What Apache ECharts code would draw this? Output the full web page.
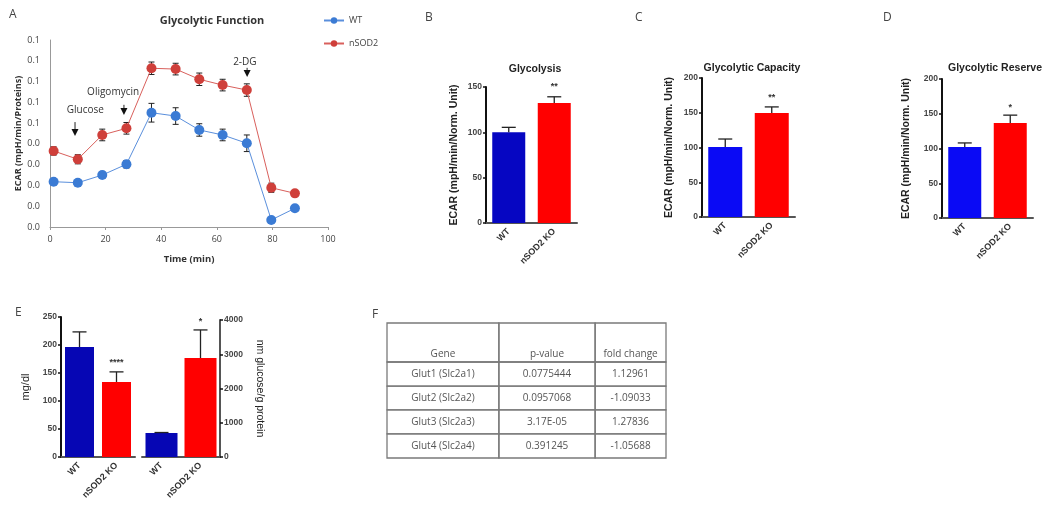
<!DOCTYPE html>
<html><head><meta charset="utf-8">
<script src="https://cdn.jsdelivr.net/npm/echarts@6/dist/echarts.min.js"></script>
<style>html,body{margin:0;padding:0;background:#fff}#c{width:1050px;height:513px}</style>
</head><body><div id="c"></div><script>
// ---------- Panel A data ----------
const timeMin = [1.3, 10.0, 18.8, 27.5, 36.5, 45.2, 53.7, 62.1, 70.8, 79.6, 88.1];
const wtEcar  = [0.0218, 0.0213, 0.0250, 0.0302, 0.0550, 0.0534, 0.0467, 0.0443, 0.0403, 0.0034, 0.0090];
const wtErr   = [0.0012, 0.0015, 0.0015, 0.0018, 0.0045, 0.0040, 0.0030, 0.0028, 0.0040, 0.0010, 0.0010];
const sodEcar = [0.0366, 0.0326, 0.0443, 0.0475, 0.0764, 0.0760, 0.0711, 0.0683, 0.0659, 0.0189, 0.0162];
const sodErr  = [0.0020, 0.0022, 0.0028, 0.0028, 0.0030, 0.0028, 0.0030, 0.0028, 0.0030, 0.0022, 0.0012];
const yTickLabelsA = ['0.0','0.0','0.0','0.0','0.0','0.1','0.1','0.1','0.1','0.1'];
const xTicksA = [0, 20, 40, 60, 80, 100];
const annotText = ['Glucose', 'Oligomycin', '2-DG'];
const annotTextAt = [[12.7, 0.0563], [22.7, 0.0650], [70.1, 0.0794]];
const annotArrowAt = [[9.0, 0.0505, 0.0438], [26.6, 0.0588, 0.0539], [70.9, 0.0766, 0.0722]];

// ---------- Panels B-E data ----------
const groups = ['WT', 'nSOD2 KO'];
const glycolysis = [100, 132.4];
const glycolysisErr = [5.5, 6.8];
const glycolysisSig = ['', '**'];
const capacity = [100.7, 149.6];
const capacityErr = [11.5, 8.8];
const capacitySig = ['', '**'];
const reserve = [102, 136.7];
const reserveErr = [6, 11.3];
const reserveSig = ['', '*'];
const glucoseMgDl = [196.4, 134];
const glucoseMgDlErr = [27, 18];
const glucoseMgDlSig = ['', '****'];
const glucoseNm = [700, 2890];
const glucoseNmErr = [15, 820];
const glucoseNmSig = ['', '*'];

// ---------- Panel F data ----------
const tableHeader = ['Gene', 'p-value', 'fold change'];
const genes = ['Glut1 (Slc2a1)', 'Glut2 (Slc2a2)', 'Glut3 (Slc2a3)', 'Glut4 (Slc2a4)'];
const pValues = ['0.0775444', '0.0957068', '3.17E-05', '0.391245'];
const foldChanges = ['1.12961', '-1.09033', '1.27836', '-1.05688'];
// table layout (fractions of table box)
const colEdges = [0, 0.401, 0.746, 1];
const rowEdges = [0, 0.289, 0.467, 0.644, 0.822, 1];

const FA = '"Liberation Sans", Arial, sans-serif';
const FC = '"Open Sans", "Liberation Sans", sans-serif';
const BLUE_A = '#3b7bd4', RED_A = '#cf3f3a';
const RED = '#ff0000';

const chart = echarts.init(document.getElementById('c'), null, {renderer: 'canvas'});

function errA(params, api) {
  const t = api.value(0), v = api.value(1), e = api.value(2);
  const top = api.coord([t, v + e]), bot = api.coord([t, v - e]);
  const c = 3;
  const st = {stroke: '#222', lineWidth: 1};
  return {type: 'group', children: [
    {type: 'line', shape: {x1: top[0], y1: top[1], x2: bot[0], y2: bot[1]}, style: st},
    {type: 'line', shape: {x1: top[0]-c, y1: top[1], x2: top[0]+c, y2: top[1]}, style: st},
    {type: 'line', shape: {x1: bot[0]-c, y1: bot[1], x2: bot[0]+c, y2: bot[1]}, style: st}
  ]};
}

function annotRender(params, api) {
  const i = params.dataIndex;
  const tp = api.coord(annotTextAt[i]);
  const a = annotArrowAt[i];
  const p1 = api.coord([a[0], a[1]]), p2 = api.coord([a[0], a[2]]);
  const headH = 7, headW = 3.5;
  return {type: 'group', children: [
    {type: 'text', style: {text: annotText[i], x: tp[0], y: tp[1], align: 'center', verticalAlign: 'middle',
      font: '10px ' + FC, fill: '#333'}},
    {type: 'line', shape: {x1: p1[0], y1: p1[1], x2: p2[0], y2: p2[1] - headH}, style: {stroke: '#222', lineWidth: 1}},
    {type: 'polygon', shape: {points: [[p2[0]-headW, p2[1]-headH], [p2[0]+headW, p2[1]-headH], [p2[0], p2[1]]]},
      style: {fill: '#111'}}
  ]};
}

function makeErr(sig, cap, starGap) {
  return function (params, api) {
    const x = api.value(0), v = api.value(1), e = api.value(2);
    const p0 = api.coord([x, v]), p1 = api.coord([x, v + e]);
    const st = {stroke: '#222', lineWidth: 1.3};
    const ch = [
      {type: 'line', shape: {x1: p0[0], y1: p0[1], x2: p1[0], y2: p1[1]}, style: st},
      {type: 'line', shape: {x1: p1[0]-cap, y1: p1[1], x2: p1[0]+cap, y2: p1[1]}, style: st}
    ];
    const s = sig[params.dataIndex];
    if (s) ch.push({type: 'text', style: {text: s, x: p1[0], y: p1[1] - starGap, align: 'center', verticalAlign: 'middle',
      font: 'bold 9px ' + FA, fill: '#333'}});
    return {type: 'group', children: ch};
  };
}

function tableRender(params, api) {
  const c = api.value(0), r = api.value(1);
  const a = api.coord([colEdges[c], rowEdges[r]]);
  const b = api.coord([colEdges[c+1], rowEdges[r+1]]);
  let text;
  if (r === 0) text = tableHeader[c];
  else text = [genes, pValues, foldChanges][c][r-1];
  const x = (a[0] + b[0]) / 2;
  const y = r === 0 ? b[1] - 8 : (a[1] + b[1]) / 2;
  return {type: 'group', children: [
    {type: 'rect', shape: {x: a[0], y: a[1], width: b[0]-a[0], height: b[1]-a[1]},
      style: {fill: 'none', stroke: '#7a7a7a', lineWidth: 1.3}},
    {type: 'text', style: {text: text, x: x, y: y, align: 'center', verticalAlign: 'middle',
      font: '10px ' + FC, fill: '#555'}}
  ]};
}

const tableCells = [];
for (let r = 0; r < rowEdges.length - 1; r++) for (let c = 0; c < colEdges.length - 1; c++) tableCells.push([c, r]);

function barAxisX(gi) {
  return {gridIndex: gi, type: 'category', data: groups,
    axisLine: {lineStyle: {color: '#555', width: 2}},
    axisTick: {alignWithLabel: true, length: 4, lineStyle: {color: '#222', width: 1.5}},
    axisLabel: {rotate: 45, fontSize: 9, fontWeight: 'bold', color: '#333', fontFamily: FA, margin: 7}};
}
function barAxisY(gi, max, interval, name, gap, extra) {
  return Object.assign({gridIndex: gi, type: 'value', min: 0, max: max, interval: interval,
    name: name, nameLocation: 'middle', nameGap: gap,
    nameTextStyle: {fontSize: 10.5, fontWeight: 'bold', color: '#222', fontFamily: FA},
    axisLine: {show: true, lineStyle: {color: '#111', width: 2}},
    axisTick: {show: true, length: 3, lineStyle: {color: '#111', width: 1.5}},
    axisLabel: {fontSize: 8.5, fontWeight: 'bold', color: '#444', fontFamily: FA, margin: 4},
    splitLine: {show: false}}, extra || {});
}
function barData(vals, blue) {
  return vals.map((v, i) => ({value: v, itemStyle: {color: i === 0 ? blue : RED}}));
}
function errData(vals, errs) { return vals.map((v, i) => [i, v, errs[i]]); }

const option = {
  animation: false,
  backgroundColor: '#fff',
  title: [
    {text: 'Glycolytic Function', left: 207, top: 10, textAlign: 'center', textStyle: {fontSize: 11, fontWeight: 'bold', color: '#333', fontFamily: FC}},
    {text: 'Glycolysis', left: 530, top: 59, textAlign: 'center', textStyle: {fontSize: 10.5, fontWeight: 'bold', color: '#222', fontFamily: FA}},
    {text: 'Glycolytic Capacity', left: 747, top: 58, textAlign: 'center', textStyle: {fontSize: 10.5, fontWeight: 'bold', color: '#222', fontFamily: FA}},
    {text: 'Glycolytic Reserve', left: 990, top: 58, textAlign: 'center', textStyle: {fontSize: 10.5, fontWeight: 'bold', color: '#222', fontFamily: FA}},
    {text: 'A', left: 4, top: 4, textStyle: {fontSize: 12, fontWeight: 'normal', color: '#444', fontFamily: FC}},
    {text: 'B', left: 420, top: 7, textStyle: {fontSize: 12, fontWeight: 'normal', color: '#444', fontFamily: FC}},
    {text: 'C', left: 630, top: 7, textStyle: {fontSize: 12, fontWeight: 'normal', color: '#444', fontFamily: FC}},
    {text: 'D', left: 878, top: 7, textStyle: {fontSize: 12, fontWeight: 'normal', color: '#444', fontFamily: FC}},
    {text: 'E', left: 10, top: 302, textStyle: {fontSize: 12, fontWeight: 'normal', color: '#444', fontFamily: FC}},
    {text: 'F', left: 367, top: 304, textStyle: {fontSize: 12, fontWeight: 'normal', color: '#444', fontFamily: FC}}
  ],
  legend: {left: 318, top: 11, orient: 'vertical', itemWidth: 20, itemHeight: 8, itemGap: 14,
    data: ['WT', 'nSOD2'], textStyle: {fontSize: 9, color: '#444', fontFamily: FC}},
  grid: [
    {left: 50, top: 40, width: 278, height: 187},
    {left: 486, top: 87, width: 91, height: 136},
    {left: 702, top: 78, width: 93, height: 139},
    {left: 942, top: 79, width: 91, height: 139},
    {left: 61, top: 317, width: 74, height: 140},
    {left: 142, top: 320, width: 78, height: 137},
    {left: 387, top: 323, width: 279, height: 135}
  ],
  xAxis: [
    {gridIndex: 0, type: 'value', min: 0, max: 100, interval: 20,
      name: 'Time (min)', nameLocation: 'middle', nameGap: 27,
      nameTextStyle: {fontSize: 9.5, fontWeight: 'bold', color: '#333', fontFamily: FC},
      axisLine: {lineStyle: {color: '#999'}}, axisTick: {show: true, length: 3, lineStyle: {color: '#999'}},
      axisLabel: {fontSize: 9, color: '#444', fontFamily: FC, margin: 8,
        formatter: v => xTicksA.includes(v) ? String(v) : ''},
      splitLine: {show: false}},
    barAxisX(1), barAxisX(2), barAxisX(3), barAxisX(4), barAxisX(5),
    {gridIndex: 6, type: 'value', min: 0, max: 1, show: false}
  ],
  yAxis: [
    {gridIndex: 0, type: 'value', min: 0, max: 0.09, interval: 0.01,
      name: 'ECAR (mpH/min/Proteins)', nameLocation: 'middle', nameGap: 27,
      nameTextStyle: {fontSize: 9, fontWeight: 'bold', color: '#333', fontFamily: FC},
      axisLine: {show: true, lineStyle: {color: '#999'}}, axisTick: {show: false},
      axisLabel: {fontSize: 9, color: '#444', fontFamily: FC, margin: 10,
        formatter: v => yTickLabelsA[Math.round(v / 0.01)]},
      splitLine: {show: false}},
    barAxisY(1, 150, 50, 'ECAR (mpH/min/Norm. Unit)', 26),
    barAxisY(2, 200, 50, 'ECAR (mpH/min/Norm. Unit)', 27),
    barAxisY(3, 200, 50, 'ECAR (mpH/min/Norm. Unit)', 30),
    barAxisY(4, 250, 50, 'mg/dl', 30, {nameTextStyle: {fontSize: 11, fontWeight: 'normal', color: '#222', fontFamily: FA}}),
    barAxisY(5, 4000, 1000, 'nm glucose/g protein', 34, {position: 'right', nameRotate: -90,
      axisLine: {show: true, lineStyle: {color: '#555', width: 2}},
      axisLabel: {fontSize: 8.5, fontWeight: 'bold', color: '#444', fontFamily: FA, margin: 4, formatter: v => String(v)},
      nameTextStyle: {fontSize: 10.5, fontWeight: 'normal', color: '#222', fontFamily: FA}}),
    {gridIndex: 6, type: 'value', min: 0, max: 1, inverse: true, show: false}
  ],
  series: [
    {type: 'custom', xAxisIndex: 0, yAxisIndex: 0, renderItem: errA, z: 1,
      data: timeMin.map((t, i) => [t, wtEcar[i], wtErr[i]])},
    {type: 'custom', xAxisIndex: 0, yAxisIndex: 0, renderItem: errA, z: 1,
      data: timeMin.map((t, i) => [t, sodEcar[i], sodErr[i]])},
    {name: 'WT', type: 'line', xAxisIndex: 0, yAxisIndex: 0, z: 3,
      data: timeMin.map((t, i) => [t, wtEcar[i]]), symbol: 'circle', symbolSize: 10,
      itemStyle: {color: BLUE_A}, lineStyle: {color: '#5a8fdc', width: 1}},
    {name: 'nSOD2', type: 'line', xAxisIndex: 0, yAxisIndex: 0, z: 3,
      data: timeMin.map((t, i) => [t, sodEcar[i]]), symbol: 'circle', symbolSize: 10,
      itemStyle: {color: RED_A}, lineStyle: {color: '#d9605c', width: 1}},
    {type: 'custom', xAxisIndex: 0, yAxisIndex: 0, renderItem: annotRender, z: 4,
      data: annotText.map((s, i) => [annotArrowAt[i][0], annotArrowAt[i][1]])},

    {type: 'bar', xAxisIndex: 1, yAxisIndex: 1, barWidth: 33, data: barData(glycolysis, '#0606c2')},
    {type: 'custom', xAxisIndex: 1, yAxisIndex: 1, renderItem: makeErr(glycolysisSig, 7, 10), z: 3,
      data: errData(glycolysis, glycolysisErr)},
    {type: 'bar', xAxisIndex: 2, yAxisIndex: 2, barWidth: 34, data: barData(capacity, '#0a0af5')},
    {type: 'custom', xAxisIndex: 2, yAxisIndex: 2, renderItem: makeErr(capacitySig, 7, 9), z: 3,
      data: errData(capacity, capacityErr)},
    {type: 'bar', xAxisIndex: 3, yAxisIndex: 3, barWidth: 33, data: barData(reserve, '#0a0af5')},
    {type: 'custom', xAxisIndex: 3, yAxisIndex: 3, renderItem: makeErr(reserveSig, 7, 8), z: 3,
      data: errData(reserve, reserveErr)},
    {type: 'bar', xAxisIndex: 4, yAxisIndex: 4, barWidth: 29, data: barData(glucoseMgDl, '#0606b4')},
    {type: 'custom', xAxisIndex: 4, yAxisIndex: 4, renderItem: makeErr(glucoseMgDlSig, 7, 9), z: 3,
      data: errData(glucoseMgDl, glucoseMgDlErr)},
    {type: 'bar', xAxisIndex: 5, yAxisIndex: 5, barWidth: 32, data: barData(glucoseNm, '#0606b4')},
    {type: 'custom', xAxisIndex: 5, yAxisIndex: 5, renderItem: makeErr(glucoseNmSig, 7, 8), z: 3,
      data: errData(glucoseNm, glucoseNmErr)},

    {type: 'custom', xAxisIndex: 6, yAxisIndex: 6, renderItem: tableRender, data: tableCells}
  ]
};
chart.setOption(option);
</script></body></html>
